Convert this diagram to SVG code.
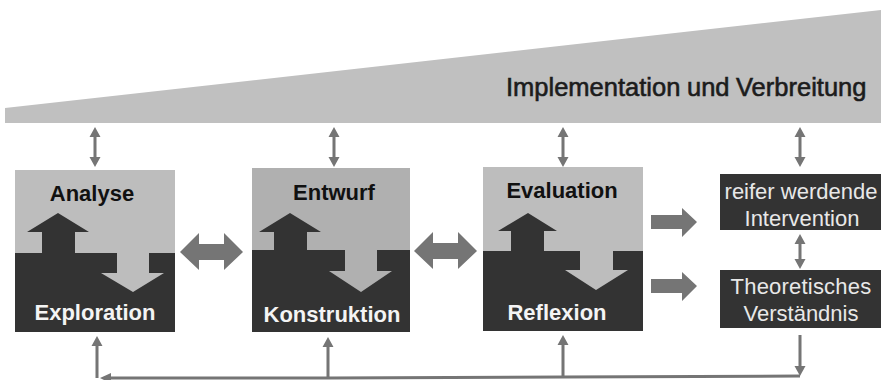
<svg xmlns="http://www.w3.org/2000/svg" width="881" height="380" viewBox="0 0 881 380">
<style>
text{font-family:"Liberation Sans",Arial,sans-serif;text-anchor:middle}
.lt{fill:#bdbdbd}.dk{fill:#333333}.ar{fill:#757575}
.ln{stroke:#757575;stroke-width:3;fill:none}
.b{font-weight:bold;font-size:22px}
.w{fill:#f4f4f4}.k{fill:#111111}
.r{font-size:22px;fill:#e8e8e8}
.t{font-size:25.500px;fill:#1c1c1c;stroke:#1c1c1c;stroke-width:0.6px;text-anchor:start}
</style>
<rect width="881" height="380" fill="#ffffff"/>
<g id="banner">
<polygon points="5,108 881,10 881,123 5,123" fill="#c0c0c0"/>
<text class="t" y="96"><tspan x="506">Implementation</tspan> <tspan x="687">und</tspan> <tspan x="736">Verbreitung</tspan></text>
</g>
<g id="node-analyse">
<rect class="lt" x="15" y="170" width="160" height="83"/>
<rect class="dk" x="15" y="253" width="160" height="79"/>
<polygon class="dk" points="58,213 89,232 75,232 75,254 42,254 42,232 27,232"/>
<polygon class="lt" points="117,253 149,253 149,273 164,273 133,292 101,273 117,273"/>
<text class="b k" x="92" y="201">Analyse</text>
<text class="b w" x="95" y="320">Exploration</text>
</g>
<g id="node-entwurf">
<rect x="252" y="168" width="158" height="82" fill="#b0b0b0"/>
<rect class="dk" x="252" y="250" width="158" height="82"/>
<polygon class="dk" points="290,213 321,232 307,232 307,251 274,251 274,232 259,232"/>
<polygon points="345,250 377,250 377,271 392,271 361,292 329,271 345,271" fill="#b0b0b0"/>
<text class="b k" x="334" y="200">Entwurf</text>
<text class="b w" x="332" y="322">Konstruktion</text>
</g>
<g id="node-evaluation">
<rect class="lt" x="483" y="167" width="160" height="84"/>
<rect class="dk" x="483" y="251" width="160" height="80"/>
<polygon class="dk" points="528,213 557,231 544,231 544,252 511,252 511,231 498,231"/>
<polygon class="lt" points="580,251 613,251 613,270 628,270 596,290 565,270 580,270"/>
<text class="b k" x="562" y="198">Evaluation</text>
<text class="b w" x="557" y="320">Reflexion</text>
</g>
<g id="node-intervention">
<rect class="dk" x="720" y="174" width="161" height="56"/>
<text class="r" x="801" y="199">reifer werdende</text>
<text class="r" x="802" y="226">Intervention</text>
</g>
<g id="node-verstaendnis">
<rect class="dk" x="720" y="270" width="161" height="58"/>
<text class="r" x="801" y="294" letter-spacing="0.2">Theoretisches</text>
<text class="r" x="801" y="321">Verständnis</text>
</g>
<g id="connectors">
<polygon class="ar" points="180,252 199,233 199,244 224,244 224,233 243,252 224,270 224,260 199,260 199,270"/>
<polygon class="ar" points="414,251 433,232 433,243 458,243 458,232 477,251 458,269 458,259 433,259 433,269"/>
<polygon class="ar" points="651,215 682,215 682,208 697,222 682,237 682,229 651,229"/>
<polygon class="ar" points="651,279 682,279 682,272 697,286 682,301 682,293 651,293"/>
<g class="ln">
<path d="M95,133V160M334,133V160M563,133V160M800,133V160M800,240V262"/>
<path d="M800,335V368M97,345V378M328,345V378M563,345V377"/>
<path d="M105,378L330,378L563,377L800,376"/>
</g>
<g class="ar">
<path d="M95,127l5.500,10h-11zM95,167l5.500,-10h-11z"/>
<path d="M334,127l5.500,10h-11zM334,167l5.500,-10h-11z"/>
<path d="M563,127l5.500,10h-11zM563,167l5.500,-10h-11z"/>
<path d="M800,127l5.500,10h-11zM800,167l5.500,-10h-11z"/>
<path d="M800,234l5.500,10h-11zM800,269l5.500,-10h-11z"/>
<path d="M800,376l5.500,-10h-11z"/>
<path d="M97,336l5.500,10h-11zM328,337l5.500,10h-11zM563,335l5.500,10h-11z"/>
<path d="M100,378l11,-5v7h-7z"/>
</g>
</g>
</svg>
